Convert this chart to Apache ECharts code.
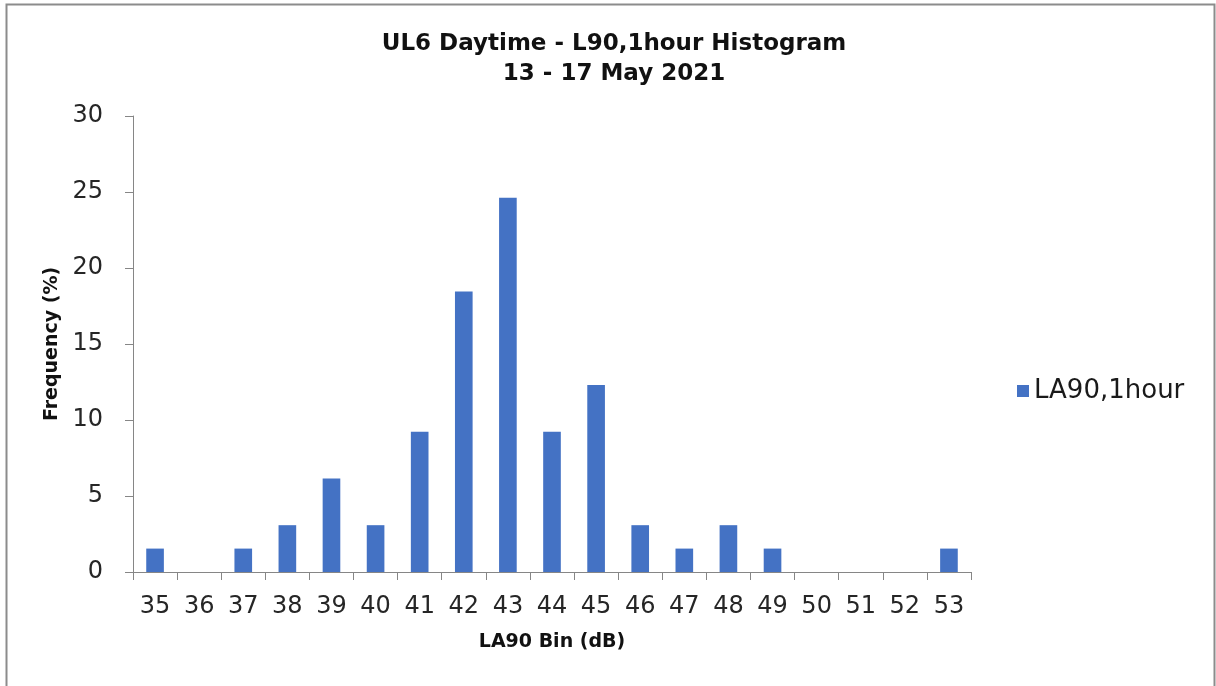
<!DOCTYPE html>
<html>
<head>
<meta charset="utf-8">
<title>UL6 Daytime - L90,1hour Histogram</title>
<script src="https://cdn.jsdelivr.net/npm/echarts@6/dist/echarts.min.js"></script>
<style>
  html, body { margin: 0; padding: 0; background: #ffffff; }
  #chart { width: 1216px; height: 686px; }
</style>
</head>
<body>
<div id="chart"></div>
<script>
// LA90 bins (dB)
const bins = ['35', '36', '37', '38', '39', '40', '41', '42', '43', '44',
              '45', '46', '47', '48', '49', '50', '51', '52', '53'];
// Frequency of hourly LA90 values per bin (%)
const frequency = [1.54, 0, 1.54, 3.08, 6.15, 3.08, 9.23, 18.46, 24.62, 9.23,
                   12.31, 3.08, 1.54, 3.08, 1.54, 0, 0, 0, 1.54];
const seriesName = 'LA90,1hour';
const titleLines = ['UL6 Daytime - L90,1hour Histogram', '13 - 17 May 2021'];
const yTicks = { min: 0, max: 30, interval: 5 };

const FONT = '"DejaVu Sans", Verdana, sans-serif';
const chart = echarts.init(document.getElementById('chart'), null, { renderer: 'canvas' });

chart.setOption({
  backgroundColor: '#ffffff',
  animation: false,
  title: {
    text: titleLines.join('\n'),
    top: 24,
    left: 609,
    textAlign: 'center',
    textStyle: {
      fontFamily: FONT, fontSize: 23, fontWeight: 'bold', color: '#111111', lineHeight: 30
    }
  },
  legend: {
    orient: 'vertical',
    left: 1012,
    top: 373,
    itemWidth: 12,
    itemHeight: 12,
    itemGap: 8,
    icon: 'rect',
    textStyle: { fontFamily: FONT, fontSize: 26, color: '#1a1a1a' },
    data: [seriesName]
  },
  grid: { left: 133, top: 116, width: 838, height: 456, containLabel: false },
  xAxis: {
    type: 'category',
    data: bins,
    name: 'LA90 Bin (dB)',
    nameLocation: 'middle',
    nameGap: 61,
    nameTextStyle: { fontFamily: FONT, fontSize: 19, fontWeight: 'bold', color: '#111111' },
    axisLine: { lineStyle: { color: '#868686', width: 1 } },
    axisTick: { show: true, alignWithLabel: false, length: 8, lineStyle: { color: '#868686' } },
    axisLabel: { fontFamily: FONT, fontSize: 24, color: '#262626', margin: 23, interval: 0 },
    splitLine: { show: false }
  },
  yAxis: {
    type: 'value',
    min: yTicks.min,
    max: yTicks.max,
    interval: yTicks.interval,
    name: 'Frequency (%)',
    nameLocation: 'middle',
    nameRotate: 90,
    nameGap: 70,
    nameTextStyle: { fontFamily: FONT, fontSize: 19, fontWeight: 'bold', color: '#111111' },
    axisLine: { show: true, lineStyle: { color: '#868686', width: 1 } },
    axisTick: { show: true, length: 8, lineStyle: { color: '#868686' } },
    axisLabel: { fontFamily: FONT, fontSize: 24, color: '#262626', margin: 30 },
    splitLine: { show: false }
  },
  series: [{
    name: seriesName,
    type: 'bar',
    data: frequency,
    barWidth: '40%',
    itemStyle: { color: '#4472c4' }
  }],
  graphic: [{
    type: 'rect',
    shape: { x: 6.5, y: 4.5, width: 1208, height: 690 },
    style: { fill: 'none', stroke: '#8c8c8c', lineWidth: 2 },
    silent: true
  }]
});
</script>
</body>
</html>
